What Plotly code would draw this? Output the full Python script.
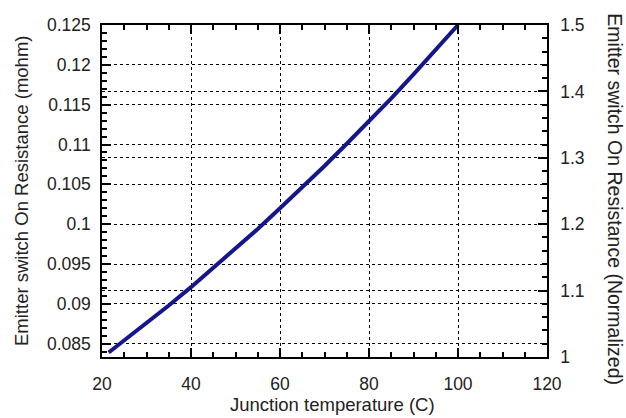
import plotly.graph_objects as go

temps = [21.5, 25, 30, 35, 40, 45, 50, 55, 60, 65, 70, 75, 80, 85, 90, 95, 100]
res_mohm = [0.0839, 0.0854, 0.0876, 0.0898, 0.0921, 0.0945, 0.0969, 0.0994, 0.1020,
            0.1046, 0.1073, 0.1101, 0.1129, 0.1158, 0.1188, 0.1219, 0.1250]
left_ticks = [0.085, 0.09, 0.095, 0.1, 0.105, 0.11, 0.115, 0.12, 0.125]
left_labels = ["0.085", "0.09", "0.095", "0.1", "0.105", "0.11", "0.115", "0.12", "0.125"]
right_ticks = [1, 1.1, 1.2, 1.3, 1.4, 1.5]
right_labels = ["1", "1.1", "1.2", "1.3", "1.4", "1.5"]
x_ticks = [20, 40, 60, 80, 100, 120]

FONT = "Liberation Sans, Arial, sans-serif"
TICK_SIZE = 17.5
TITLE_SIZE = 18.5

fig = go.Figure()
fig.add_trace(go.Scatter(x=temps, y=res_mohm, mode="lines",
                         line=dict(color="#16168c", width=4), showlegend=False))
# invisible trace for right axis
fig.add_trace(go.Scatter(x=[20], y=[1], yaxis="y2", mode="markers",
                         marker=dict(opacity=0), showlegend=False, hoverinfo="skip"))

fig.update_layout(
    width=626, height=418,
    margin=dict(l=102, r=79, t=25, b=61),
    paper_bgcolor="white", plot_bgcolor="white",
    font=dict(family=FONT, size=TICK_SIZE, color="#222"),
    xaxis=dict(range=[20, 120], tickvals=x_ticks, ticks="inside", ticklen=9,
               tickcolor="black", tickwidth=1.5, showline=True, linecolor="black",
               linewidth=1.5, mirror="ticks", showgrid=True, gridcolor="black",
               griddash="dot", gridwidth=1, zeroline=False, ticklabelstandoff=10,
               minor=dict(dtick=5, ticks="inside", ticklen=5, tickcolor="black",
                          showgrid=False),
               tickfont=dict(size=TICK_SIZE)),
    yaxis=dict(range=[0.125 / 1.5, 0.125], tickvals=left_ticks, ticktext=left_labels,
               ticks="inside", ticklen=9, tickcolor="black", tickwidth=1.5,
               showline=True, linecolor="black", linewidth=1.5,
               showgrid=True, gridcolor="black", griddash="dot", gridwidth=1,
               zeroline=False, ticklabelstandoff=6,
               minor=dict(dtick=0.001, tick0=0.085, ticks="inside", ticklen=5,
                          tickcolor="black", showgrid=False),
               tickfont=dict(size=TICK_SIZE)),
    yaxis2=dict(range=[1, 1.5], overlaying="y", side="right", tickvals=right_ticks,
                ticktext=right_labels, ticks="inside", ticklen=9, tickcolor="black",
                tickwidth=1.5, showline=True, linecolor="black", linewidth=1.5,
                showgrid=True, gridcolor="black", griddash="dot", gridwidth=1,
                zeroline=False, ticklabelstandoff=8,
                minor=dict(dtick=0.02, ticks="inside", ticklen=5, tickcolor="black",
                           showgrid=False),
                tickfont=dict(size=TICK_SIZE)),
    annotations=[
        dict(text="Junction temperature (C)", xref="paper", yref="paper",
             x=0.519, y=-0.142, showarrow=False, font=dict(size=TITLE_SIZE),
             xanchor="center", yanchor="middle"),
        dict(text="Emitter switch On Resistance (mohm)", xref="paper", yref="paper",
             x=-0.182, y=0.5, textangle=-90, showarrow=False,
             font=dict(size=TITLE_SIZE), xanchor="center", yanchor="middle"),
        dict(text="Emitter switch On Resistance (Normalized)", xref="paper", yref="paper",
             x=1.152, y=0.476, textangle=90, showarrow=False,
             font=dict(size=19.5), xanchor="center", yanchor="middle"),
    ],
)

fig.write_html("out.html")
